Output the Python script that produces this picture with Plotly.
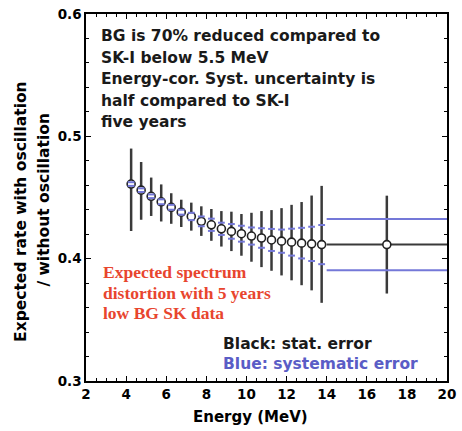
import plotly.graph_objects as go

# Energy bins (MeV) and expected rate ratio with / without oscillation
energy = [4.25, 4.75, 5.25, 5.75, 6.25, 6.75, 7.25, 7.75, 8.25, 8.75,
          9.25, 9.75, 10.25, 10.75, 11.25, 11.75, 12.25, 12.75, 13.25, 13.75]
ratio = [0.461, 0.456, 0.451, 0.4465, 0.442, 0.438, 0.4345, 0.4305, 0.4277, 0.4244,
         0.4223, 0.4204, 0.4185, 0.4169, 0.4153, 0.4143, 0.4135, 0.4127, 0.4121, 0.4115]
stat_up = [0.029, 0.023, 0.0153, 0.0142, 0.0115, 0.0102, 0.0113, 0.0123, 0.0129, 0.0145,
           0.0161, 0.0161, 0.019, 0.022, 0.0244, 0.027, 0.0305, 0.0336, 0.0395, 0.048]
stat_dn = [0.0384, 0.0242, 0.0161, 0.0161, 0.0135, 0.0121, 0.0116, 0.0119, 0.0131, 0.0145,
           0.0161, 0.018, 0.021, 0.0238, 0.0252, 0.028, 0.0312, 0.0344, 0.038, 0.0476]
syst = [0.0015, 0.0015, 0.0015, 0.002, 0.002, 0.002, 0.003, 0.004, 0.005, 0.005,
        0.006, 0.0065, 0.007, 0.008, 0.009, 0.0095, 0.011, 0.0125, 0.014, 0.016]

# Last wide bin 14-20 MeV
wide_energy = [17.0]
wide_half = [3.0]
wide_ratio = [0.4115]
wide_stat = [0.04]
wide_syst = [0.021]

x_ticks = [2, 4, 6, 8, 10, 12, 14, 16, 18, 20]
y_ticks = [0.3, 0.4, 0.5, 0.6]

BAR = "#3a3a3a"
BLUE = "#7478d8"
seg_half = 0.17

W, H = 462, 431
ML, MR, MT, MB = 86, 6, 9, 50
PW, PH = W - ML - MR, H - MT - MB


def px(x, y):
    """Pixel position -> paper coordinates."""
    return (x - ML) / PW, (H - MB - y) / PH


fig = go.Figure()

# statistical errors (black)
fig.add_trace(go.Scatter(
    x=energy, y=ratio, mode="markers",
    marker=dict(size=0.1, color="rgba(0,0,0,0)"),
    error_y=dict(type="data", symmetric=False, array=stat_up, arrayminus=stat_dn,
                 color=BAR, thickness=2.5, width=0),
    showlegend=False, hoverinfo="skip"))
fig.add_trace(go.Scatter(
    x=wide_energy, y=wide_ratio, mode="markers",
    marker=dict(size=0.1, color="rgba(0,0,0,0)"),
    error_y=dict(type="data", array=wide_stat, color=BAR, thickness=2.5, width=0),
    error_x=dict(type="data", array=wide_half, color=BAR, thickness=2, width=0),
    showlegend=False, hoverinfo="skip"))

# data points
fig.add_trace(go.Scatter(
    x=energy + wide_energy, y=ratio + wide_ratio, mode="markers",
    marker=dict(symbol="circle", size=8, color="white",
                line=dict(color="#222222", width=1.6)),
    showlegend=False))

# systematic error marks (blue)
sx, sy = [], []
for e, r, s in zip(energy, ratio, syst):
    for sign in (1, -1):
        sx += [e - seg_half, e + seg_half, None]
        sy += [r + sign * s, r + sign * s, None]
for e, h, r, s in zip(wide_energy, wide_half, wide_ratio, wide_syst):
    for sign in (1, -1):
        sx += [e - h, e + h, None]
        sy += [r + sign * s, r + sign * s, None]
fig.add_trace(go.Scatter(x=sx, y=sy, mode="lines",
                         line=dict(color=BLUE, width=2),
                         showlegend=False, hoverinfo="skip"))

SANS_B = "DejaVu Sans"
axis_font = dict(family=SANS_B, size=13.5, color="black", weight="bold")

fig.update_layout(
    width=W, height=H,
    margin=dict(l=ML, r=MR, t=MT, b=MB),
    paper_bgcolor="white", plot_bgcolor="white",
    font=dict(family=SANS_B, color="black"),
    xaxis=dict(range=[2, 20], tickvals=x_ticks,
               ticktext=[f"<b>{v}</b>" for v in x_ticks],
               tickfont=axis_font, ticks="inside", ticklen=5, tickcolor="black",
               ticklabeloverflow="allow",
               showline=True, linecolor="black", linewidth=1.5, mirror="ticks",
               showgrid=False, zeroline=False,
               minor=dict(dtick=0.5, ticks="inside", ticklen=3, tickcolor="black")),
    yaxis=dict(range=[0.3, 0.6], tickvals=y_ticks,
               ticktext=[f"<b>{v:.1f}</b>" for v in y_ticks],
               tickfont=axis_font, ticks="inside", ticklen=5, tickcolor="black",
               ticklabeloverflow="allow",
               showline=True, linecolor="black", linewidth=1.5, mirror="ticks",
               showgrid=False, zeroline=False,
               minor=dict(dtick=0.02, ticks="inside", ticklen=3, tickcolor="black")),
)


def label(text, x, y, font, xanchor="left", angle=0):
    ax, ay = px(x, y)
    fig.add_annotation(xref="paper", yref="paper", x=ax, y=ay,
                       xanchor=xanchor, yanchor="middle", showarrow=False,
                       textangle=angle, text=text, font=font)


notes = ["BG is 70% reduced compared to", "SK-I below 5.5 MeV",
         "Energy-cor. Syst. uncertainty is", "half compared to SK-I", "five years"]
note_y = [31.7, 53.3, 75.0, 96.7, 118.3]
for t, yy in zip(notes, note_y):
    label(f"<b>{t}</b>", 99, yy, dict(family=SANS_B, size=15.5, color="#1a1a1a"))

red_lines = ["Expected spectrum", "distortion with 5 years", "low BG SK data"]
red_y = [270.5, 291.5, 312.0]
for t, yy in zip(red_lines, red_y):
    label(f"<b>{t}</b>", 101, yy,
          dict(family="Liberation Serif", size=17.5, color="#e8452e"))

label("<b>Black: stat. error</b>", 224, 343,
      dict(family=SANS_B, size=15.5, color="#1a1a1a"))
label("<b>Blue: systematic error</b>", 224, 363.5,
      dict(family=SANS_B, size=15.5, color="#5a5dc6"))

label("<b>Energy (MeV)</b>", 255, 417,
      dict(family=SANS_B, size=15, color="black"), xanchor="center")
label("<b>Expected rate with oscillation</b>", 20, 209,
      dict(family=SANS_B, size=15.5, color="black"), xanchor="center", angle=-90)
label("<b>/ without oscillation</b>", 43, 197,
      dict(family=SANS_B, size=15.5, color="black"), xanchor="center", angle=-90)

fig.write_html("out.html")
